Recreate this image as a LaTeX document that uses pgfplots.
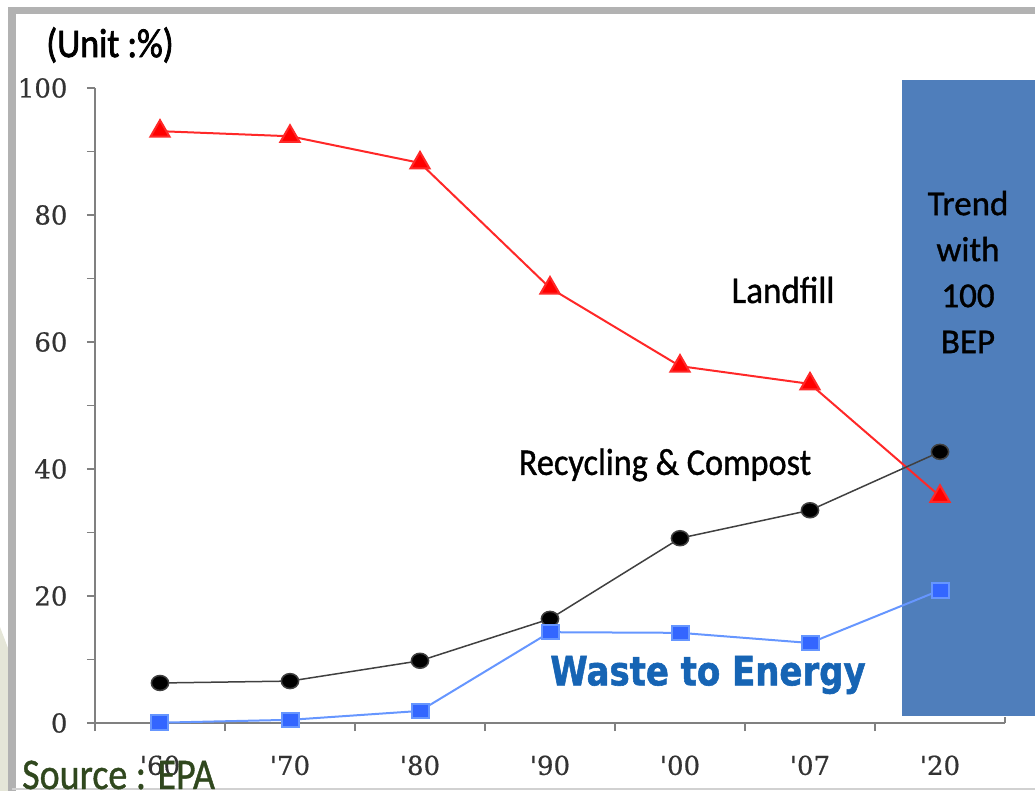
\documentclass[border=0pt]{standalone}
\usepackage{fontspec}
\usepackage{graphicx}
\setmainfont{Carlito}
\newfontfamily\labfont{Carlito}[FakeBold=1]
\newfontfamily\unitfont{Carlito}[FakeBold=2]
\newfontfamily\numfont{DejaVu Serif}[FakeBold=0.6]
\newfontfamily\wtefont{DejaVu Sans}[BoldFeatures={FakeBold=1.5}]
\usepackage{pgfplots}
\pgfplotsset{compat=1.18}

\definecolor{axisgray}{RGB}{128,128,128}
\definecolor{framegray}{RGB}{178,178,178}
\definecolor{trendblue}{RGB}{79,126,187}
\definecolor{lfred}{RGB}{255,0,0}
\definecolor{lfline}{RGB}{255,40,40}
\definecolor{wteblue}{RGB}{51,102,255}
\definecolor{wteline}{RGB}{102,150,255}
\definecolor{wtetext}{RGB}{22,100,180}
\definecolor{srcgreen}{RGB}{48,72,30}
\definecolor{beige}{RGB}{229,230,216}

\begin{document}
\begin{tikzpicture}
% picture frame: 1 px of the reference = 1 pt, origin at the axis corner
\useasboundingbox (-95pt,-67pt) rectangle (940pt,723pt);
\fill[beige] (-95pt,96pt) -- (-87pt,75pt) -- (-87pt,-70pt) -- (-95pt,-70pt) -- cycle;
\draw[framegray, line width=7.5pt] (-83pt,-80pt) -- (-83pt,712.5pt) -- (950pt,712.5pt);
\draw[framegray!60, line width=1.5pt] (-83pt,-66pt) -- (950pt,-66pt);

\begin{axis}[
  at={(0,0)}, anchor=south west,
  scale only axis, width=910pt, height=635pt,
  xmin=-0.5, xmax=6.5, ymin=0, ymax=100,
  clip=false,
  axis x line=bottom, axis y line=left,
  axis line style={axisgray, line width=1.5pt, -},
  tick align=outside,
  major tick length=8pt, minor tick length=8pt,
  ytick={0,20,...,100}, minor ytick={10,30,...,90},
  ytick style={axisgray, line width=1.5pt},
  xtick={0,...,6},
  xticklabels={{'60},{'70},{'80},{'90},{'00},{'07},{'20}},
  xtick style={draw=none},
  extra x ticks={-0.5,0.5,...,5.5},
  extra x tick labels={},
  extra x tick style={xtick style={draw=axisgray, line width=1.5pt}},
  ticklabel style={font=\numfont\fontsize{26}{30}\selectfont, text=black!80},
  xticklabel style={yshift=-21pt},
  yticklabel style={xshift=-16pt},
  /pgf/number format/assume math mode=true,
]
\fill[trendblue] (axis cs:5.71,1.1) rectangle (axis cs:6.8,101.3);

% Landfill
\addplot[lfline, line width=2pt, mark=triangle*, mark size=11pt,
  mark options={fill=lfred, draw=none}]
  coordinates {(0,93.2) (1,92.4) (2,88.2) (3,68.5) (4,56.2) (5,53.4) (6,35.7)};
% Recycling & Compost
\addplot[black!75, line width=1.5pt, mark=*, mark size=7.5pt,
  mark options={fill=black, draw=none, xscale=1.15}]
  coordinates {(0,6.3) (1,6.6) (2,9.8) (3,16.4) (4,29.1) (5,33.5) (6,42.7)};
% Waste to Energy
\addplot[wteline, line width=2pt, mark=square*, mark size=8.5pt,
  mark options={fill=wteblue, draw=none, yscale=0.85}]
  coordinates {(0,0.05) (1,0.5) (2,1.9) (3,14.3) (4,14.2) (5,12.6) (6,20.9)};
\end{axis}

\draw[axisgray, line width=1.5pt] (910pt,0pt) -- (910pt,6pt);

\node[font=\unitfont\fontsize{37}{40}\selectfont] at (15pt,678pt) {\scalebox{0.97}[1.1]{(Unit :\%)}};
\node[font=\labfont\fontsize{35}{40}\selectfont] at (688pt,433pt) {\scalebox{1}[1.08]{Landfill}};
\node[font=\labfont\fontsize{35}{40}\selectfont] at (570pt,258pt) {\scalebox{0.98}[1.08]{Recycling \& Compost}};
\node[font=\wtefont\bfseries\fontsize{35}{40}\selectfont, text=wtetext] at (613pt,48pt) {\scalebox{0.97}[1.15]{Waste to Energy}};
\node[font=\labfont\fontsize{35}{46}\selectfont, align=center] at (873pt,451pt) {Trend\\with\\100\\BEP};
\node[font=\labfont\fontsize{38}{40}\selectfont, text=srcgreen, anchor=base west, inner sep=0pt] at (-73pt,-66pt) {\scalebox{1}[1.15]{Source : EPA}};
\end{tikzpicture}
\end{document}
